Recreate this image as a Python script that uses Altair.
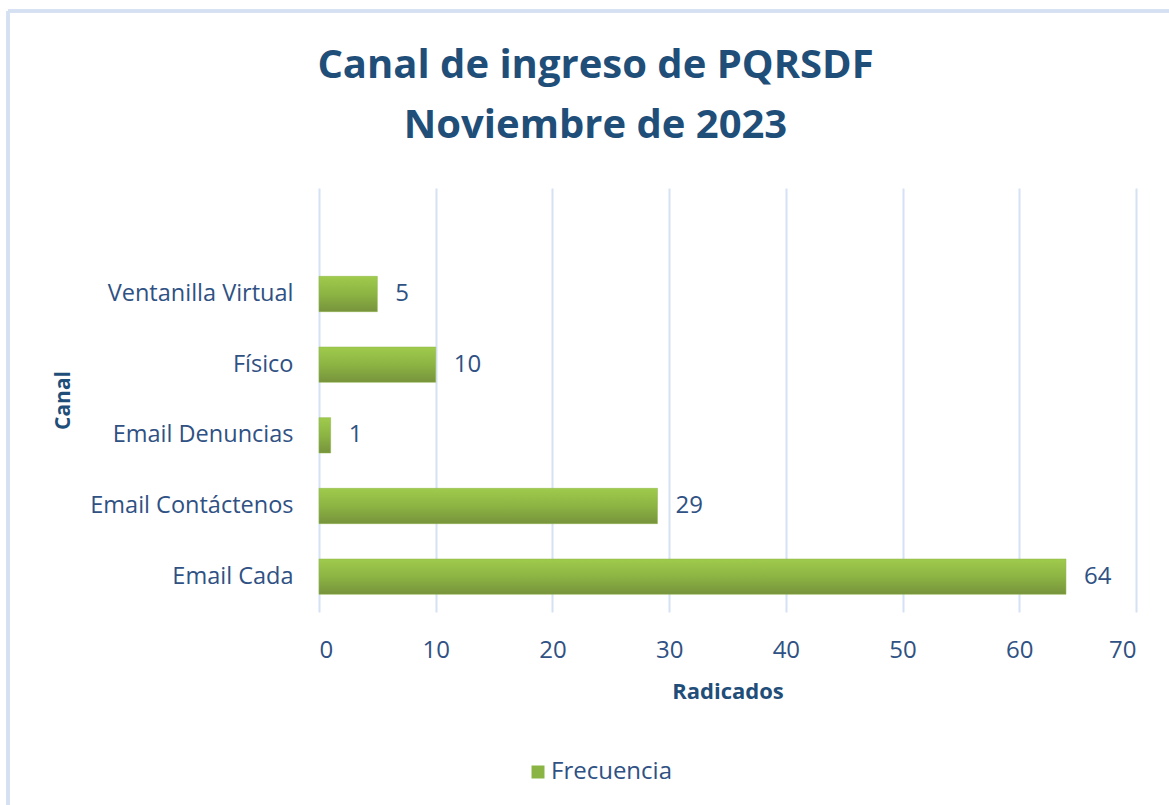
import altair as alt
import pandas as pd

canales = ["Ventanilla Virtual", "Físico", "Email Denuncias", "Email Contáctenos", "Email Cada"]
frecuencia = [5, 10, 1, 29, 64]
orden_y = [" "] + canales  # la categoría superior aparece vacía en el original
serie = ["Frecuencia"]
x_ticks = [0, 10, 20, 30, 40, 50, 60, 70]

df = pd.DataFrame({"Canal": canales, "Radicados": frecuencia, "Serie": serie * len(canales)})

FONT = "Open Sans"
LABEL_COLOR = "#2f5183"
TITLE_COLOR = "#1f4e79"
LABEL_SIZE = 24

y_enc = alt.Y(
    "Canal:N",
    sort=orden_y,
    scale=alt.Scale(domain=orden_y, paddingInner=0.5, paddingOuter=0.25),
    axis=alt.Axis(
        title="Canal",
        titleFont=FONT,
        titleFontSize=21,
        titleFontWeight="bold",
        titleColor=TITLE_COLOR,
        titlePadding=46,
        labelFont=FONT,
        labelFontSize=23.5,
        labelColor=LABEL_COLOR,
        labelPadding=26,
        labelLimit=0,
        ticks=False,
        domain=False,
        grid=False,
    ),
)
x_enc = alt.X(
    "Radicados:Q",
    scale=alt.Scale(domain=[0, 70], nice=False),
    axis=alt.Axis(
        values=x_ticks,
        title="Radicados",
        titleFont=FONT,
        titleFontSize=22,
        titleFontWeight="bold",
        titleColor=TITLE_COLOR,
        titlePadding=19,
        labelFont=FONT,
        labelFontSize=LABEL_SIZE,
        labelColor=LABEL_COLOR,
        labelPadding=26,
        ticks=False,
        domain=False,
        grid=True,
        gridColor="#d5e2f3",
        gridWidth=2,
    ),
)

bars = alt.Chart(df).mark_bar(
    fill=alt.Gradient(
        gradient="linear",
        x1=0, x2=0, y1=0, y2=1,
        stops=[
            alt.GradientStop(color="#9fcb4c", offset=0),
            alt.GradientStop(color="#8cb443", offset=0.5),
            alt.GradientStop(color="#77933c", offset=1),
        ],
    ),
    stroke="#8fb546",
    strokeWidth=0.5,
).encode(y=y_enc, x=x_enc)

labels = alt.Chart(df).mark_text(
    align="left", baseline="middle", dx=18, font=FONT, fontSize=LABEL_SIZE, color=LABEL_COLOR
).encode(y=alt.Y("Canal:N", sort=orden_y), x="Radicados:Q", text="Radicados:Q")

legend_layer = alt.Chart(df).mark_square(filled=True, opacity=0).encode(
    y=alt.Y("Canal:N", sort=orden_y),
    x="Radicados:Q",
    color=alt.Color(
        "Serie:N",
        scale=alt.Scale(domain=serie, range=["#8ab443"]),
        legend=alt.Legend(
            title=None,
            orient="none",
            legendX=207,
            legendY=572,
            symbolType="square",
            symbolSize=169,
            symbolOpacity=1,
            symbolFillColor="#8ab443",
            symbolStrokeWidth=0,
            labelFont=FONT,
            labelFontSize=LABEL_SIZE,
            labelColor=LABEL_COLOR,
            labelOffset=1,
        ),
    ),
)

border_top = alt.Chart(df).mark_rule(color="#d5e1f2", strokeWidth=3).encode(
    x=alt.value(-311), x2=alt.value(850), y=alt.value(-177)
)
border_left = alt.Chart(df).mark_rule(color="#d5e1f2", strokeWidth=3).encode(
    x=alt.value(-311), y=alt.value(-177), y2=alt.value(620)
)

chart = (
    alt.layer(border_top, border_left, bars, labels, legend_layer)
    .properties(
        width=817,
        height=424,
        view=alt.ViewBackground(stroke="transparent", strokeWidth=0),
        autosize=alt.AutoSizeParams(type="none"),
        padding={"left": 319, "top": 188, "right": 33, "bottom": 193},
        title=alt.TitleParams(
            text=["Canal de ingreso de PQRSDF", "Noviembre de 2023"],
            font=FONT,
            fontSize=40,
            fontWeight="bold",
            color=TITLE_COLOR,
            anchor="middle",
            frame="group",
            dx=-132,
            lineHeight=60,
            offset=-136,
        ),
    )
    .configure_view(stroke="transparent", strokeWidth=0)
    .configure(background="white")
)

chart.save("out.html", embed_options={"renderer": "svg", "actions": False})
